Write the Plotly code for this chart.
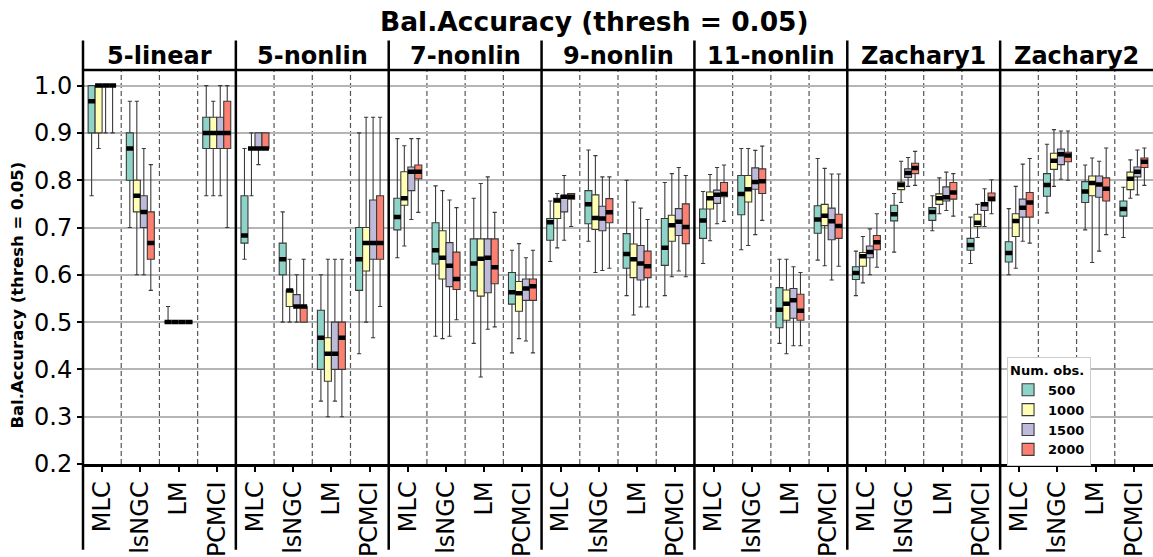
import plotly.graph_objects as go
from plotly.subplots import make_subplots

# ---- data -------------------------------------------------------------
PANELS = ["5-linear", "5-nonlin", "7-nonlin", "9-nonlin", "11-nonlin", "Zachary1", "Zachary2"]
METHODS = ["MLC", "lsNGC", "LM", "PCMCI"]
SIZES = ["500", "1000", "1500", "2000"]
COLORS = ["#8dd3c7", "#ffffb3", "#bebada", "#fb8072"]

# rows: (lower whisker, q1, median, q3, upper whisker), per method, per sample size
LINEAR_5 = {
    "MLC":   [(0.767, 0.900, 0.967, 1.000, 1.000), (0.867, 0.900, 1.000, 1.000, 1.000),
              (0.900, 1.000, 1.000, 1.000, 1.000), (0.900, 1.000, 1.000, 1.000, 1.000)],
    "lsNGC": [(0.700, 0.800, 0.867, 0.900, 0.967), (0.600, 0.733, 0.767, 0.800, 0.967),
              (0.600, 0.700, 0.733, 0.767, 0.867), (0.567, 0.633, 0.667, 0.733, 0.833)],
    "LM":    [(0.500, 0.500, 0.500, 0.500, 0.533), (0.500, 0.500, 0.500, 0.500, 0.500),
              (0.500, 0.500, 0.500, 0.500, 0.500), (0.500, 0.500, 0.500, 0.500, 0.500)],
    "PCMCI": [(0.767, 0.867, 0.900, 0.933, 1.000), (0.767, 0.867, 0.900, 0.933, 0.967),
              (0.767, 0.867, 0.900, 0.933, 1.000), (0.700, 0.867, 0.900, 0.967, 1.000)],
}
NONLIN_5 = {
    "MLC":   [(0.633, 0.667, 0.683, 0.767, 0.867), (0.767, 0.867, 0.867, 0.867, 0.900),
              (0.833, 0.867, 0.867, 0.900, 0.900), (0.867, 0.867, 0.867, 0.900, 0.900)],
    "lsNGC": [(0.500, 0.600, 0.633, 0.667, 0.733), (0.500, 0.533, 0.567, 0.567, 0.633),
              (0.500, 0.533, 0.533, 0.558, 0.600), (0.500, 0.500, 0.533, 0.533, 0.633)],
    "LM":    [(0.333, 0.400, 0.467, 0.525, 0.600), (0.300, 0.375, 0.433, 0.467, 0.633),
              (0.333, 0.400, 0.433, 0.500, 0.633), (0.300, 0.400, 0.467, 0.500, 0.633)],
    "PCMCI": [(0.433, 0.567, 0.633, 0.700, 0.900), (0.500, 0.608, 0.667, 0.700, 0.933),
              (0.467, 0.633, 0.667, 0.758, 0.933), (0.533, 0.633, 0.667, 0.767, 0.933)],
}
NONLIN_7 = {
    "MLC":   [(0.636, 0.695, 0.722, 0.762, 0.888), (0.661, 0.747, 0.762, 0.818, 0.873),
              (0.717, 0.778, 0.818, 0.828, 0.888), (0.732, 0.803, 0.818, 0.832, 0.888)],
    "lsNGC": [(0.470, 0.623, 0.652, 0.710, 0.788), (0.465, 0.591, 0.636, 0.693, 0.778),
              (0.470, 0.575, 0.619, 0.668, 0.758), (0.505, 0.569, 0.591, 0.648, 0.742)],
    "LM":    [(0.455, 0.566, 0.624, 0.676, 0.762), (0.384, 0.555, 0.634, 0.676, 0.793),
              (0.485, 0.562, 0.636, 0.676, 0.807), (0.490, 0.581, 0.616, 0.676, 0.732)],
    "PCMCI": [(0.435, 0.538, 0.563, 0.605, 0.652), (0.465, 0.523, 0.561, 0.586, 0.666),
              (0.460, 0.546, 0.571, 0.591, 0.636), (0.435, 0.546, 0.576, 0.591, 0.652)],
}
NONLIN_9 = {
    "MLC":   [(0.628, 0.673, 0.711, 0.719, 0.756), (0.657, 0.719, 0.757, 0.762, 0.772),
              (0.673, 0.733, 0.765, 0.767, 0.810), (0.702, 0.760, 0.765, 0.772, 0.772)],
    "lsNGC": [(0.671, 0.708, 0.749, 0.778, 0.864), (0.605, 0.696, 0.720, 0.769, 0.852),
              (0.609, 0.693, 0.719, 0.745, 0.807), (0.614, 0.710, 0.732, 0.761, 0.807)],
    "LM":    [(0.556, 0.614, 0.644, 0.687, 0.800), (0.515, 0.594, 0.633, 0.665, 0.754),
              (0.532, 0.589, 0.624, 0.662, 0.741), (0.532, 0.594, 0.618, 0.650, 0.717)],
    "PCMCI": [(0.556, 0.620, 0.657, 0.719, 0.795), (0.596, 0.671, 0.705, 0.726, 0.814),
              (0.608, 0.683, 0.712, 0.740, 0.827), (0.596, 0.666, 0.701, 0.750, 0.810)],
}
NONLIN_11 = {
    "MLC":   [(0.624, 0.677, 0.715, 0.739, 0.776), (0.672, 0.739, 0.762, 0.775, 0.812),
              (0.708, 0.751, 0.769, 0.779, 0.827), (0.713, 0.765, 0.771, 0.795, 0.832)],
    "lsNGC": [(0.653, 0.727, 0.771, 0.810, 0.867), (0.662, 0.754, 0.781, 0.810, 0.867),
              (0.685, 0.781, 0.796, 0.826, 0.863), (0.715, 0.772, 0.798, 0.824, 0.872)],
    "LM":    [(0.455, 0.488, 0.526, 0.573, 0.633), (0.433, 0.504, 0.539, 0.568, 0.633),
              (0.450, 0.508, 0.546, 0.571, 0.617), (0.450, 0.504, 0.524, 0.559, 0.605)],
    "PCMCI": [(0.631, 0.688, 0.717, 0.746, 0.846), (0.619, 0.704, 0.725, 0.749, 0.825),
              (0.589, 0.674, 0.713, 0.741, 0.813), (0.618, 0.677, 0.703, 0.728, 0.813)],
}
ZACHARY_1 = {
    "MLC":   [(0.556, 0.590, 0.604, 0.617, 0.650), (0.583, 0.618, 0.639, 0.647, 0.681),
              (0.600, 0.636, 0.648, 0.661, 0.697), (0.616, 0.653, 0.669, 0.683, 0.729)],
    "lsNGC": [(0.648, 0.714, 0.728, 0.747, 0.772), (0.753, 0.780, 0.790, 0.796, 0.840),
              (0.787, 0.806, 0.815, 0.824, 0.848), (0.789, 0.814, 0.826, 0.836, 0.861)],
    "LM":    [(0.693, 0.715, 0.733, 0.742, 0.767), (0.729, 0.749, 0.762, 0.771, 0.805),
              (0.736, 0.756, 0.764, 0.786, 0.817), (0.724, 0.760, 0.774, 0.795, 0.814)],
    "PCMCI": [(0.624, 0.652, 0.663, 0.677, 0.722), (0.679, 0.702, 0.710, 0.728, 0.749),
              (0.702, 0.736, 0.749, 0.753, 0.782), (0.729, 0.756, 0.761, 0.773, 0.801)],
}
ZACHARY_2 = {
    "MLC":   [(0.600, 0.627, 0.646, 0.670, 0.740), (0.614, 0.681, 0.714, 0.729, 0.787),
              (0.671, 0.722, 0.742, 0.760, 0.834), (0.667, 0.722, 0.753, 0.774, 0.846)],
    "lsNGC": [(0.731, 0.766, 0.790, 0.814, 0.876), (0.787, 0.823, 0.841, 0.857, 0.907),
              (0.802, 0.833, 0.855, 0.866, 0.904), (0.800, 0.839, 0.852, 0.859, 0.904)],
    "LM":    [(0.695, 0.753, 0.776, 0.797, 0.832), (0.626, 0.767, 0.794, 0.809, 0.847),
              (0.650, 0.764, 0.791, 0.809, 0.840), (0.685, 0.756, 0.782, 0.805, 0.868)],
    "PCMCI": [(0.679, 0.724, 0.739, 0.756, 0.785), (0.762, 0.780, 0.803, 0.817, 0.843),
              (0.769, 0.807, 0.818, 0.828, 0.864), (0.789, 0.827, 0.839, 0.847, 0.868)],
}
PANEL_DATA = [LINEAR_5, NONLIN_5, NONLIN_7, NONLIN_9, NONLIN_11, ZACHARY_1, ZACHARY_2]

# ---- styling ----------------------------------------------------------
FONT = "DejaVu Sans"
BOX_W = 0.183
OFFSETS = [-1.5 * BOX_W, -0.5 * BOX_W, 0.5 * BOX_W, 1.5 * BOX_W]
EDGE = "#3a3a3a"
N = len(PANELS)

fig = make_subplots(rows=1, cols=N, shared_yaxes=True, horizontal_spacing=0)

for p, data in enumerate(PANEL_DATA):
    col = p + 1
    med_x, med_y = [], []
    for s, size in enumerate(SIZES):
        xs = [m + OFFSETS[s] for m in range(len(METHODS))]
        stats = [data[name][s] for name in METHODS]
        fig.add_trace(
            go.Box(
                x=xs,
                lowerfence=[r[0] for r in stats],
                q1=[r[1] for r in stats],
                median=[r[2] for r in stats],
                q3=[r[3] for r in stats],
                upperfence=[r[4] for r in stats],
                width=BOX_W,
                whiskerwidth=0.6,
                fillcolor=COLORS[s],
                line=dict(color=EDGE, width=1.1),
                name=f"<b>{size}</b>",
                legendgroup=size,
                showlegend=(p == 0),
                boxpoints=False,
                hoverinfo="skip",
            ),
            row=1, col=col,
        )
        for x, r in zip(xs, stats):
            med_x += [x - BOX_W / 2, x + BOX_W / 2, None]
            med_y += [r[2], r[2], None]
    # thick black median bars
    fig.add_trace(
        go.Scatter(x=med_x, y=med_y, mode="lines",
                   line=dict(color="black", width=4.5),
                   showlegend=False, hoverinfo="skip"),
        row=1, col=col,
    )

shapes = []
for p in range(N):
    xa = "x" if p == 0 else f"x{p + 1}"
    fig.update_xaxes(
        range=[-0.5, 3.5], tickvals=list(range(len(METHODS))), ticktext=METHODS,
        tickangle=-90, ticks="outside", ticklen=5, tickwidth=2, tickcolor="black",
        showline=True, linecolor="black", linewidth=2.5,
        showgrid=False, zeroline=False,
        tickfont=dict(family=FONT, size=24, color="black"),
        row=1, col=p + 1,
    )
    # dashed dividers between method groups
    for b in (0.5, 1.5, 2.5):
        shapes.append(dict(type="line", xref=xa, yref="paper", x0=b, x1=b, y0=0, y1=1,
                           line=dict(color="#555555", width=1.2, dash="5px,3px"),
                           layer="below"))
    # panel separators
    shapes.append(dict(type="line", xref="paper", yref="paper", x0=p / N, x1=p / N,
                       y0=-0.2175, y1=1.075, line=dict(color="black", width=2.5),
                       layer="above"))

shapes.append(dict(type="line", xref="paper", yref="paper", x0=0, x1=1, y0=1, y1=1,
                   line=dict(color="black", width=2.5), layer="above"))

fig.update_yaxes(
    range=[0.2, 1.033], dtick=0.1, tick0=0.2, tickformat=".1f",
    showgrid=True, gridcolor="#b5b5b5", gridwidth=1.5, zeroline=False,
)
fig.update_yaxes(ticks="outside", ticklen=5, tickwidth=2, tickcolor="black",
                 tickfont=dict(family=FONT, size=24, color="black"), row=1, col=1)
for c in range(2, N + 1):
    fig.update_yaxes(showticklabels=False, ticks="", row=1, col=c)

annotations = []
for p, name in enumerate(PANELS):
    annotations.append(dict(text=f"<b>{name}</b>", x=(p + 0.5) / N, y=1.036,
                            xref="paper", yref="paper", showarrow=False,
                            xanchor="center", yanchor="middle",
                            font=dict(family=FONT, size=24, color="black")))
annotations.append(dict(text="<b>Bal.Accuracy (thresh = 0.05)</b>", x=0.4785, y=1.1225,
                        xref="paper", yref="paper", showarrow=False,
                        xanchor="center", yanchor="middle",
                        font=dict(family=FONT, size=26.5, color="black")))
annotations.append(dict(text="<b>Bal.Accuracy (thresh = 0.05)</b>", x=-0.0607, y=0.4275,
                        xref="paper", yref="paper", showarrow=False, textangle=-90,
                        xanchor="center", yanchor="middle",
                        font=dict(family=FONT, size=16.5, color="black")))

fig.update_layout(
    width=1153, height=557,
    margin=dict(l=83, r=0, t=70, b=87),
    paper_bgcolor="white", plot_bgcolor="white",
    boxmode="overlay",
    shapes=shapes, annotations=annotations,
    legend=dict(
        title=dict(text="<b>Num. obs.</b>", font=dict(family=FONT, size=13, color="black")),
        font=dict(family=FONT, size=13, color="black"),
        x=0.8636, y=0.272, xanchor="left", yanchor="top",
        bgcolor="white", bordercolor="#cccccc", borderwidth=1,
        tracegroupgap=0, itemclick=False,
    ),
    font=dict(family=FONT),
)

fig.write_html("out.html")
